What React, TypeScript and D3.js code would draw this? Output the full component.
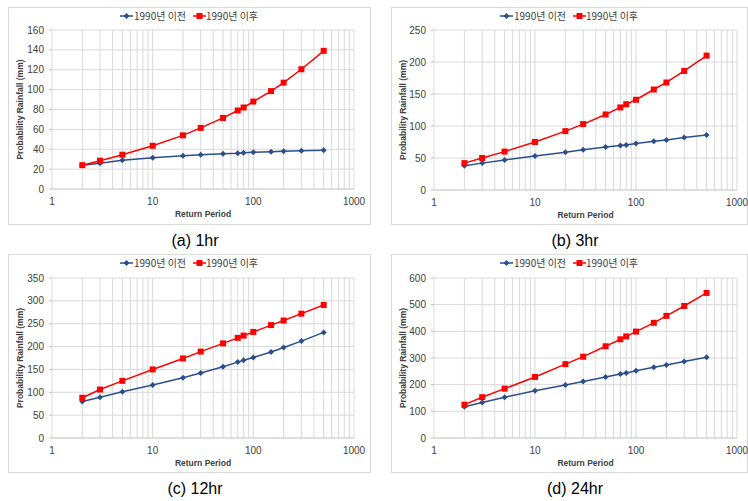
import React from "react";
import { scaleLog, scaleLinear, line } from "d3";

const periods = [2, 3, 5, 10, 20, 30, 50, 70, 80, 100, 150, 200, 300, 500];

const before1hr = [24, 26, 29, 31.5, 33.5, 34.5, 35.5, 36, 36.5, 37, 37.5, 38, 38.5, 39];
const after1hr = [24, 28.5, 34.5, 43.5, 54, 61.5, 71.5, 79, 82, 88, 98.5, 107, 120.5, 139];
const before3hr = [38, 42, 47, 53, 59, 63, 67, 69.5, 70.5, 72.5, 76, 78, 82, 86];
const after3hr = [42, 50, 60, 75, 92, 103, 118, 129, 134, 141, 157, 168, 186, 210];
const before12hr = [80, 89, 101, 116, 132, 142, 156, 166, 170, 176, 188, 198, 212, 231];
const after12hr = [88, 106, 125, 150, 174, 189, 207, 219, 224, 232, 247, 257, 272, 291];
const before24hr = [117, 133, 153, 177, 199, 212, 229, 240, 244, 252, 265, 274, 287, 303];
const after24hr = [125, 153, 185, 229, 277, 305, 344, 370, 381, 399, 432, 458, 495, 544];

const seriesNames = ["1990년 이전", "1990년 이후"];
const xTicks = [1, 10, 100, 1000];
const captions = ["(a)  1hr", "(b)  3hr", "(c)  12hr", "(d)  24hr"];
const yMaxes = [160, 250, 350, 600];
const yStepsList = [20, 50, 50, 100];

const BLUE = "#2b4f8c";
const RED = "#ff0000";
const FONT = "'Liberation Sans', Arial, sans-serif";
const KFONT = "'Noto Sans CJK KR', 'Liberation Sans', sans-serif";

type Box = { fx: number; fy: number; fw: number; fh: number; x0: number; x1: number; yTop: number; yBot: number };

const boxes: Box[] = [
  { fx: 8, fy: 7, fw: 362, fh: 217, x0: 52, x1: 354, yTop: 30, yBot: 189 },
  { fx: 391, fy: 7, fw: 356, fh: 217, x0: 434, x1: 737, yTop: 30, yBot: 190 },
  { fx: 8, fy: 254, fw: 362, fh: 218, x0: 52, x1: 354, yTop: 278, yBot: 438 },
  { fx: 391, fy: 254, fw: 356, fh: 218, x0: 434, x1: 737, yTop: 278, yBot: 438 },
];

function Panel({ box, before, after, yMax, yStep, caption }: any) {
  const x = scaleLog().domain([1, 1000]).range([box.x0, box.x1]);
  const y = scaleLinear().domain([0, yMax]).range([box.yBot, box.yTop]);
  const yTicks = y.ticks(yMax / yStep);
  const minor: number[] = [];
  for (const d of [1, 10, 100]) for (let k = 1; k <= 9; k++) minor.push(d * k);
  minor.push(1000);
  const gen = line<number>()
    .x((_, i) => x(periods[i]))
    .y((v) => y(v));
  const cx = box.fx + box.fw / 2;
  const ly = box.fy + 9;
  const legX = cx - 69;
  return (
    <g>
      <rect x={box.fx + 0.5} y={box.fy + 0.5} width={box.fw} height={box.fh} fill="#fff" stroke="#d9d9d9" />
      {minor.map((t) => (
        <line key={"v" + t} x1={x(t)} x2={x(t)} y1={box.yTop} y2={box.yBot} stroke="#d9d9d9" strokeWidth={1} />
      ))}
      {yTicks.map((t) => (
        <line key={"h" + t} x1={box.x0} x2={box.x1} y1={y(t)} y2={y(t)} stroke={t === 0 ? "#bfbfbf" : "#d9d9d9"} />
      ))}
      {yTicks.map((t) => (
        <line key={"yt" + t} x1={box.x0 - 3} x2={box.x0} y1={y(t)} y2={y(t)} stroke="#bfbfbf" />
      ))}
      {yTicks.map((t) => (
        <text key={"yl" + t} x={box.x0 - 8} y={y(t) + 3.5} fontSize={10} textAnchor="end" fill="#404040" fontFamily={FONT}>
          {t}
        </text>
      ))}
      {xTicks.map((t) => (
        <text key={"xl" + t} x={x(t)} y={box.yBot + 16} fontSize={10} textAnchor="middle" fill="#404040" fontFamily={FONT}>
          {t}
        </text>
      ))}
      <text x={(box.x0 + box.x1) / 2} y={box.yBot + 28} fontSize={8.5} fontWeight="bold" textAnchor="middle" fill="#404040" fontFamily={FONT}>
        Return Period
      </text>
      <text
        transform={`translate(${box.fx + 15},${(box.yTop + box.yBot) / 2}) rotate(-90)`}
        fontSize={8.5}
        fontWeight="bold"
        textAnchor="middle"
        fill="#404040"
        fontFamily={FONT}
      >
        Probability Rainfall (mm)
      </text>
      <path d={gen(before) || ""} fill="none" stroke={BLUE} strokeWidth={1.5} />
      <path d={gen(after) || ""} fill="none" stroke={RED} strokeWidth={1.5} />
      {before.map((v: number, i: number) => (
        <path
          key={"b" + i}
          d={`M${x(periods[i])},${y(v) - 3}l3,3l-3,3l-3,-3z`}
          fill={BLUE}
        />
      ))}
      {after.map((v: number, i: number) => (
        <rect key={"a" + i} x={x(periods[i]) - 3} y={y(v) - 3} width={6} height={6} fill={RED} />
      ))}
      <line x1={legX} x2={legX + 13} y1={ly} y2={ly} stroke={BLUE} strokeWidth={1.5} />
      <path d={`M${legX + 6.5},${ly - 3}l3,3l-3,3l-3,-3z`} fill={BLUE} />
      <text x={legX + 14} y={ly + 3.5} fontSize={10} fill="#404040" fontFamily={KFONT}>
        {seriesNames[0]}
      </text>
      <line x1={legX + 73} x2={legX + 86} y1={ly} y2={ly} stroke={RED} strokeWidth={1.5} />
      <rect x={legX + 76.5} y={ly - 3} width={6} height={6} fill={RED} />
      <text x={legX + 86} y={ly + 3.5} fontSize={10} fill="#404040" fontFamily={KFONT}>
        {seriesNames[1]}
      </text>
      <text x={cx + 6} y={box.fy + box.fh + 22} fontSize={16} textAnchor="middle" fill="#000" fontFamily={FONT}>
        {caption}
      </text>
    </g>
  );
}

export default function App() {
  const data = [
    [before1hr, after1hr],
    [before3hr, after3hr],
    [before12hr, after12hr],
    [before24hr, after24hr],
  ];
  return (
    <svg width={748} height={501} style={{ position: "absolute", left: 0, top: 0, background: "#fff" }}>
      <rect width={748} height={501} fill="#fff" />
      {boxes.map((b, i) => (
        <Panel
          key={i}
          box={b}
          before={data[i][0]}
          after={data[i][1]}
          yMax={yMaxes[i]}
          yStep={yStepsList[i]}
          caption={captions[i]}
        />
      ))}
    </svg>
  );
}
